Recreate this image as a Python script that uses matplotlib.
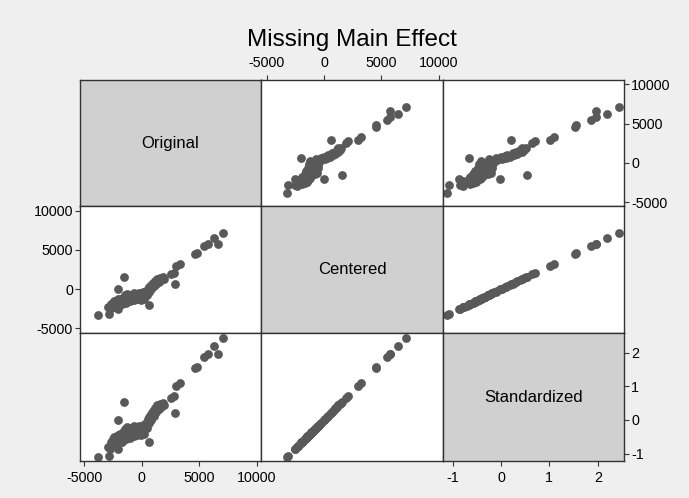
import matplotlib.pyplot as plt

plt.rcParams['font.family'] = ['Liberation Sans', 'DejaVu Sans']
plt.rcParams['axes.unicode_minus'] = False

original = [-3850, -2850, -2920, -2030, -2080, -1590, 640, 2890, 2550, 2750,
            2950, 3300, 4620, 4800, 5400, 5780, 6250, 6620, 7080,
            # lower tail of the cluster
            -2750, -2700, -2600, -2550, -2450, -2400, -2300, -2250, -2200, -2100,
            -2050, -1950, -1900, -1800, -1750, -1650, -1600, -1500,
            # core
            -1450, -1400, -1350, -1300, -1250, -1200, -1100, -1050, -1000, -950,
            -900, -850, -750, -700, -650, -600, -500, -450, -400, -300,
            -250, -200, -100, -50, 0, 100, 150, 200, 300, 350,
            # rising part
            450, 500, 600, 650, 750, 800, 900, 1000, 1050, 1150,
            1250, 1350, 1450, 1600, 1700, 1850, 1950]
centered = [-3250, -3180, -2320, -2570, -40, 1580, -1970, 600, 1880, 2050,
            3000, 3200, 4500, 4580, 5500, 5780, 6480, 5800, 7140,
            -2500, -1900, -2250, -1700, -2100, -1500, -1900, -2300, -1600, -1300,
            -1950, -1700, -1200, -1500, -1900, -1100, -1600, -1350,
            -800, -1700, -1150, -600, -1450, -950, -1250, -700, -1550, -1050,
            -800, -1350, -1000, -550, -1400, -1150, -750, -1300, -950, -1150,
            -550, -850, -1350, -650, -1000, -400, -800, -1200, -550, -250,
            -700, 50, -300, 300, 0, 550, 250, 750, 350, 1000,
            700, 1250, 950, 1400, 1150, 1500, 1250]
standardized = [-1.11, -1.08, -0.79, -0.87, -0.01, 0.54, -0.67, 0.20, 0.64, 0.70,
                1.02, 1.09, 1.53, 1.56, 1.87, 1.97, 2.20, 1.97, 2.43,
                -0.85, -0.65, -0.77, -0.58, -0.71, -0.51, -0.65, -0.78, -0.54, -0.44,
                -0.66, -0.58, -0.41, -0.51, -0.65, -0.37, -0.54, -0.46,
                -0.27, -0.58, -0.39, -0.20, -0.49, -0.32, -0.43, -0.24, -0.53, -0.36,
                -0.27, -0.46, -0.34, -0.19, -0.48, -0.39, -0.26, -0.44, -0.32, -0.39,
                -0.19, -0.29, -0.46, -0.22, -0.34, -0.14, -0.27, -0.41, -0.19, -0.09,
                -0.24, 0.02, -0.10, 0.10, 0.00, 0.19, 0.09, 0.26, 0.12, 0.34,
                0.24, 0.43, 0.32, 0.48, 0.39, 0.51, 0.43]

names = ['Original', 'Centered', 'Standardized']
data = [original, centered, standardized]
ticks = [[-5000, 0, 5000, 10000], [-5000, 0, 5000, 10000], [-1, 0, 1, 2]]

# axis ranges (x per column, y per row)
xlims = [(-5374, 10348), (-5500, 10385), (-1.198, 2.542)]
ylims = [(-5470, 10546), (-5580, 10580), (-1.22, 2.58)]

W, H = 689, 498
col_px = [80, 261, 443, 624]
row_px = [80, 206, 333, 461]

fig = plt.figure(figsize=(W / 100, H / 100), dpi=100, facecolor='#efefef')

for i in range(3):
    for j in range(3):
        x0, x1 = col_px[j], col_px[j + 1]
        y0, y1 = row_px[i], row_px[i + 1]
        ax = fig.add_axes([x0 / W, 1 - y1 / H, (x1 - x0) / W, (y1 - y0) / H])
        ax.set_xlim(xlims[j])
        ax.set_ylim(ylims[i])
        if i == j:
            ax.set_facecolor('#d0d0d0')
            ax.text(0.5, 0.5, names[i], transform=ax.transAxes, ha='center',
                    va='center', fontsize=12)
        else:
            ax.set_facecolor('white')
            ax.scatter(data[j], data[i], s=40, color='#595959', linewidths=0)
        ax.set_xticks([])
        ax.set_yticks([])
        for sp in ax.spines.values():
            sp.set_color('#333333')
            sp.set_linewidth(1.0)
        ax.tick_params(direction='out', length=3.6, width=0.8, labelsize=10.3,
                       color='#333333')
        ax.tick_params(axis='x', pad=3.6)
        ax.tick_params(axis='y', pad=1.5)
        # outer axes like stata's graph matrix
        if i == 0 and j == 1:
            ax.xaxis.tick_top()
            ax.set_xticks(ticks[1])
        if i == 0 and j == 2:
            ax.yaxis.tick_right()
            ax.set_yticks(ticks[0])
        if i == 1 and j == 0:
            ax.set_yticks(ticks[1])
        if i == 2 and j == 0:
            ax.set_xticks(ticks[0])
        if i == 2 and j == 2:
            ax.set_xticks(ticks[2])
            ax.yaxis.tick_right()
            ax.set_yticks(ticks[2])

fig.text(352 / W, 1 - 46 / H, 'Missing Main Effect', ha='center', va='baseline',
         fontsize=17.5)

plt.savefig('out.png', dpi=100, facecolor=fig.get_facecolor())
